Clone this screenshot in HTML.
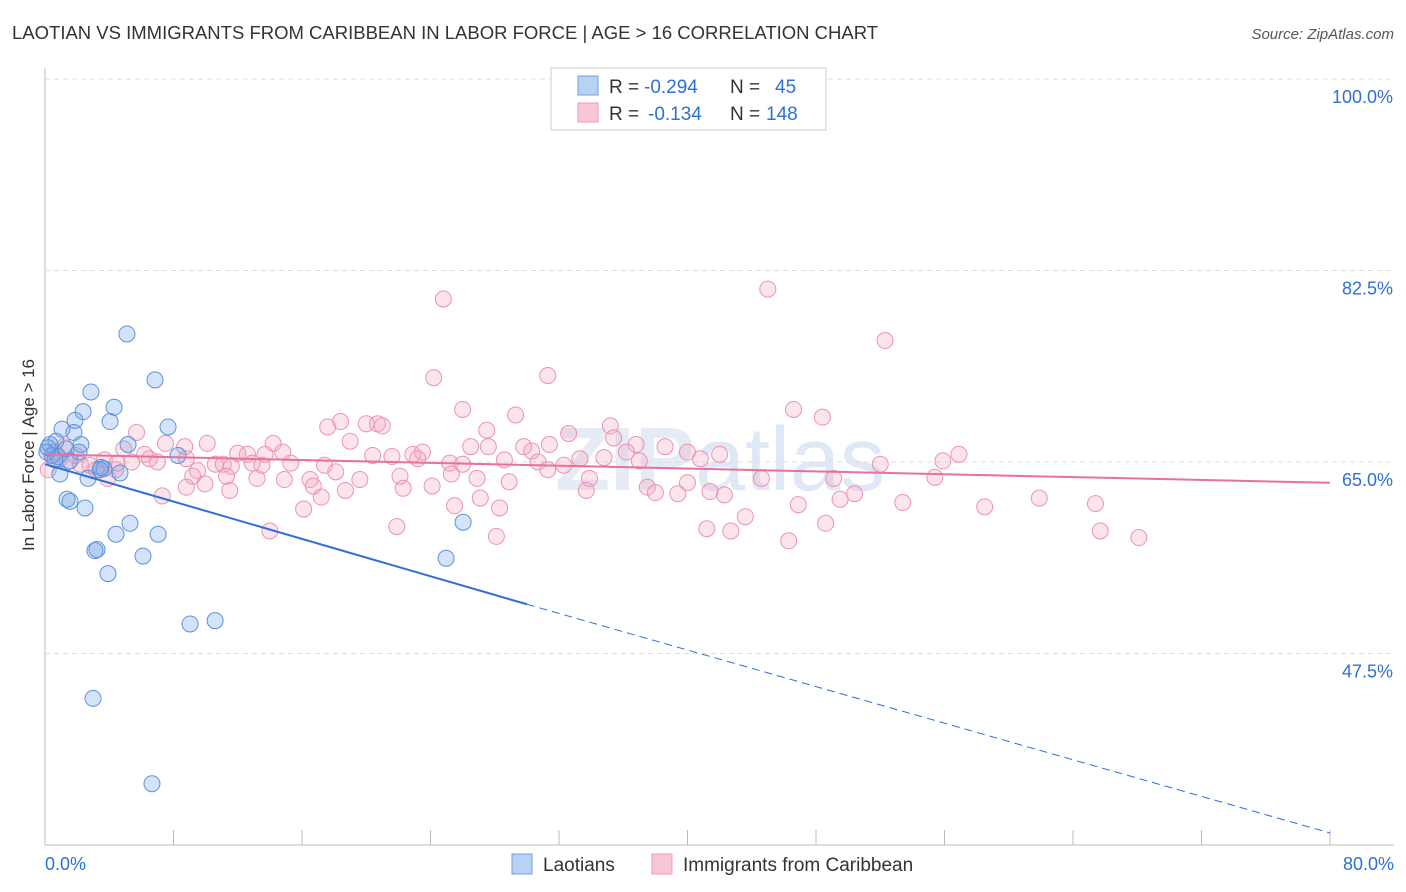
<!DOCTYPE html>
<html><head><meta charset="utf-8">
<style>
body{margin:0;background:#fff;font-family:"Liberation Sans",sans-serif;}
#wrap{position:relative;width:1406px;height:892px;overflow:hidden;}
</style></head>
<body>
<div id="wrap">
<svg id="svg" width="1406" height="892" xmlns="http://www.w3.org/2000/svg">
<text x="12" y="39" font-size="18.5" fill="#333">LAOTIAN VS IMMIGRANTS FROM CARIBBEAN IN LABOR FORCE | AGE &gt; 16 CORRELATION CHART</text>
<text x="1394" y="39" font-size="15" fill="#555" font-style="italic" text-anchor="end">Source: ZipAtlas.com</text>
<text x="720" y="490" font-size="90" fill="#e6ecf5" text-anchor="middle" font-weight="bold">ZIP<tspan font-weight="normal" fill="#dfe8f6">atlas</tspan></text>
<text transform="translate(34,455) rotate(-90)" font-size="17" fill="#333" text-anchor="middle">In Labor Force | Age &gt; 16</text>
<g id="grid"></g>
<g id="pts"></g>
<g id="lines"></g>
<g>
<rect x="551" y="68" width="275" height="62" fill="#fff" stroke="#ccc"/>
<rect x="578" y="76" width="20" height="19" fill="#b9d2f3" stroke="#6fa3e6"/>
<rect x="578" y="103" width="20" height="19" fill="#f8c6d6" stroke="#ee9bb6"/>
<text y="93" font-size="19" fill="#333"><tspan x="609">R =</tspan><tspan x="644" fill="#2f6fd6">-0.294</tspan><tspan x="730">N =</tspan><tspan x="775" fill="#2f6fd6">45</tspan></text>
<text y="120" font-size="19" fill="#333"><tspan x="609">R =</tspan><tspan x="648" fill="#2f6fd6">-0.134</tspan><tspan x="730">N =</tspan><tspan x="766" fill="#2f6fd6">148</tspan></text>
</g>
<g>
<rect x="512" y="854" width="20" height="20" fill="#b9d2f3" stroke="#6fa3e6"/>
<text x="543" y="871" font-size="19" fill="#333">Laotians</text>
<rect x="652" y="854" width="20" height="20" fill="#f8c6d6" stroke="#ee9bb6"/>
<text x="683" y="871" font-size="19" fill="#333">Immigrants from Caribbean</text>
</g>
<text x="45" y="870" font-size="18" fill="#2f6fd6">0.0%</text>
<text x="1394" y="870" font-size="18" fill="#2f6fd6" text-anchor="end">80.0%</text>
</svg>
</div>
<script>
const yTicks=[100,82.5,65,47.5];
const yTickLabels=["100.0%","82.5%","65.0%","47.5%"];
const xTicks=[0,8,16,24,32,40,48,56,64,72,80];
const blueX=[5.1,6.85,2.86,4.3,2.37,1.87,7.66,4.05,1.06,1.8,5.17,2.24,0.68,0.31,1.31,2.12,0.12,0.81,8.28,3.67,3.49,2.68,0.93,4.67,1.37,1.56,2.49,5.29,4.42,7.04,3.24,3.11,6.1,3.92,9.03,10.59,2.99,6.66,26.03,24.97,0.44,0.62,0.19,1.56,3.42];
const blueY=[76.7,72.5,71.4,70.0,69.6,68.8,68.2,68.7,68.0,67.7,66.6,66.6,66.9,66.6,66.2,65.9,65.9,65.5,65.6,64.4,64.5,63.5,63.9,64.0,61.6,61.4,60.8,59.4,58.4,58.4,57.0,56.9,56.4,54.8,50.2,50.5,43.4,35.6,59.5,56.2,65.6,65.2,66.3,65.1,64.3];
const pinkX=[24.8,45.0,52.3,24.2,31.3,26.0,29.3,46.6,48.4,18.4,17.6,20.0,20.7,21.0,27.5,35.2,32.6,5.7,19.0,10.1,14.2,7.5,26.5,27.6,29.8,31.4,36.8,38.6,35.4,4.9,6.2,6.5,7.0,8.7,8.8,12.0,12.6,13.7,14.8,20.4,21.6,22.9,23.5,23.2,25.2,26.0,28.6,30.3,30.7,32.3,33.3,34.8,36.2,37.0,40.0,40.8,42.0,55.9,56.9,52.0,3.7,4.5,5.4,10.6,11.1,11.6,12.9,13.5,15.3,17.4,9.5,11.3,9.2,13.2,14.9,16.5,18.1,19.6,22.1,25.3,26.9,28.9,31.3,33.9,40.0,44.6,49.1,55.4,3.9,8.8,9.96,11.5,16.7,18.7,22.3,24.1,27.1,33.7,37.5,38.0,39.4,41.4,42.3,50.4,49.5,7.3,17.2,16.1,25.5,28.3,46.9,53.4,58.5,61.9,65.4,43.6,48.6,41.2,42.7,14.0,21.9,28.1,46.3,65.7,68.1,0.2,0.9,1.4,2.2,2.8,3.2,0.6,1.9,1.2,4.4];
const pinkY=[79.9,80.8,76.1,72.7,72.9,69.8,69.3,69.8,69.1,68.7,68.2,68.5,68.5,68.3,67.9,68.3,67.6,67.7,66.9,66.7,66.7,66.7,66.4,66.4,66.4,66.6,66.6,66.4,67.2,66.2,65.7,65.3,65.0,66.4,65.3,65.8,65.7,65.7,65.9,65.6,65.5,65.7,65.9,65.3,64.9,64.8,65.2,66.0,65.0,64.7,65.3,65.4,65.9,65.1,65.9,65.3,65.7,65.1,65.7,64.8,65.2,64.9,65.0,64.8,64.8,64.6,64.9,64.7,64.9,64.7,64.2,63.7,63.7,63.5,63.4,63.4,64.1,63.4,63.7,63.9,63.5,63.2,64.3,63.5,63.1,63.5,63.5,63.6,63.5,62.7,63.0,62.4,62.8,62.4,62.6,62.8,61.7,62.4,62.7,62.2,62.1,62.3,62.0,62.1,61.6,61.9,61.8,60.7,61.0,60.8,61.1,61.3,60.9,61.7,61.2,60.0,59.4,58.9,58.7,58.7,59.1,58.2,57.8,58.7,58.1,64.3,65.3,65.0,64.8,64.7,64.3,65.9,65.6,66.4,64.3];
const blueTrend=[64.8,52.0,31.1];
const blueTrendX=[0,30,80];
const pinkTrend=[65.7,63.1];
const pinkTrendX=[0,80];

const NS="http://www.w3.org/2000/svg";
const xs=v=>45+v*(1330-45)/80;
const ys=v=>79+(100-v)*10.943;
function mk(tag,attrs,parent){const e=document.createElementNS(NS,tag);for(const k in attrs)e.setAttribute(k,attrs[k]);parent.appendChild(e);return e;}
const grid=document.getElementById('grid');
mk('line',{x1:45,y1:68,x2:45,y2:845,stroke:'#bbb'},grid);
mk('line',{x1:45,y1:845,x2:1394,y2:845,stroke:'#bbb'},grid);
yTicks.forEach((t,i)=>{
 const g=mk('line',{x1:45,y1:ys(t),x2:1394,y2:ys(t),stroke:'#ddd','stroke-dasharray':'5,4'},grid);
 
 
 const tx=mk('text',{x:1393,y:ys(t)+24,'font-size':18,fill:'#2f6fd6','text-anchor':'end'},grid);
 tx.textContent=yTickLabels[i];
 
 
});
xTicks.forEach(t=>{
 const l=mk('line',{x1:xs(t),y1:830,x2:xs(t),y2:845,stroke:'#bbb'},grid);
 
 
});
const pts=document.getElementById('pts');
pinkX.forEach((x,i)=>{
 const c=mk('circle',{cx:xs(x),cy:ys(pinkY[i]),r:8,fill:'rgba(244,166,191,0.3)',stroke:'#ec93b0','stroke-width':1},pts);
 
 
});
blueX.forEach((x,i)=>{
 const c=mk('circle',{cx:xs(x),cy:ys(blueY[i]),r:8,fill:'rgba(111,163,230,0.3)',stroke:'#5b93df','stroke-width':1},pts);
 
 
});
const lines=document.getElementById('lines');
const b1=mk('line',{x1:xs(blueTrendX[0]),y1:ys(blueTrend[0]),x2:xs(blueTrendX[1]),y2:ys(blueTrend[1]),stroke:'#2f6fd6','stroke-width':2},lines);


const b2=mk('line',{x1:xs(blueTrendX[1]),y1:ys(blueTrend[1]),x2:xs(blueTrendX[2]),y2:ys(blueTrend[2]),stroke:'#2f6fd6','stroke-width':1,'stroke-dasharray':'8,5'},lines);


const p1=mk('line',{x1:xs(pinkTrendX[0]),y1:ys(pinkTrend[0]),x2:xs(pinkTrendX[1]),y2:ys(pinkTrend[1]),stroke:'#e8709a','stroke-width':2},lines);


</script>
</body></html>
